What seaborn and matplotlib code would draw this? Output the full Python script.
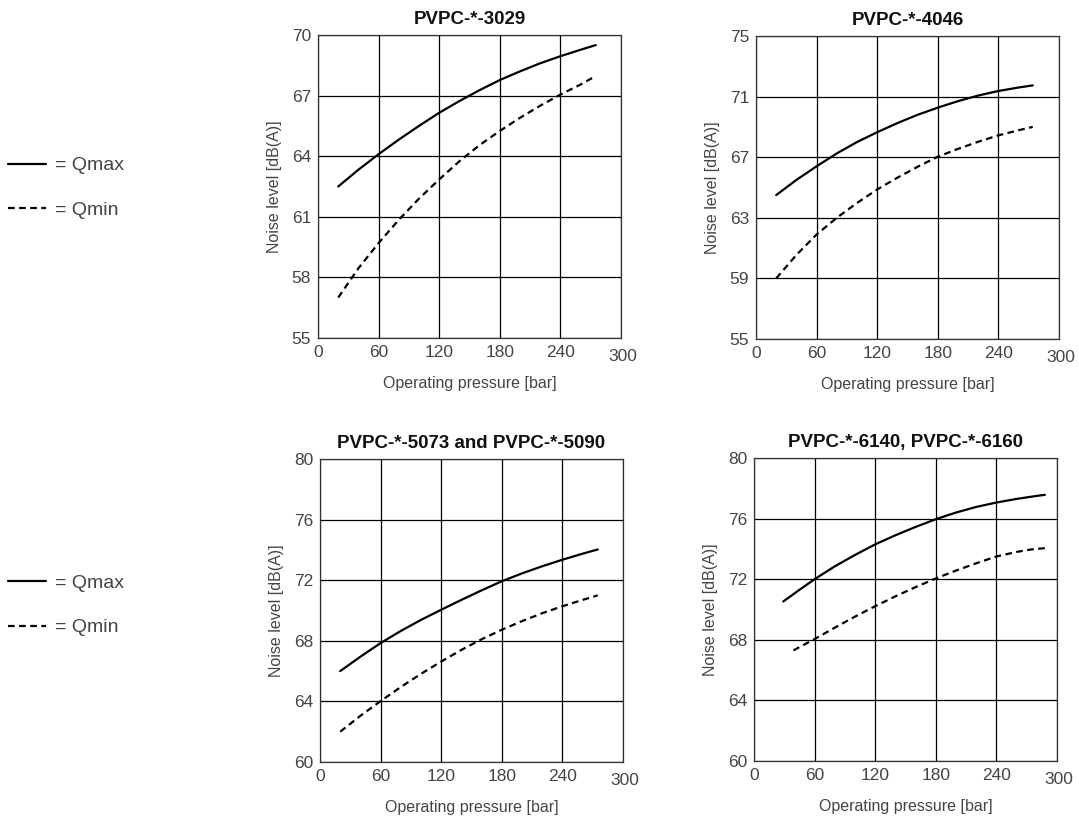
import matplotlib
matplotlib.use('Agg')
import matplotlib.pyplot as plt
import matplotlib.transforms as mtransforms
from matplotlib.lines import Line2D
import seaborn as sns
import pandas as pd

# Daten
titles = ['PVPC-*-3029', 'PVPC-*-4046', 'PVPC-*-5073 and PVPC-*-5090', 'PVPC-*-6140, PVPC-*-6160']

p_3029_max = [20, 40, 60, 80, 100, 120, 140, 160, 180, 200, 220, 240, 260, 275]
q_3029_max = [62.5, 63.33, 64.1, 64.82, 65.5, 66.15, 66.73, 67.27, 67.77, 68.2, 68.6, 68.95, 69.27, 69.5]
p_3029_min = [20, 40, 60, 80, 100, 120, 140, 160, 180, 200, 220, 240, 260, 275]
q_3029_min = [57.0, 58.45, 59.7, 60.85, 61.9, 62.85, 63.75, 64.55, 65.25, 65.9, 66.5, 67.05, 67.55, 67.97]

p_4046_max = [20, 40, 60, 80, 100, 120, 140, 160, 180, 200, 220, 240, 260, 274]
q_4046_max = [64.5, 65.5, 66.4, 67.25, 68.0, 68.65, 69.25, 69.8, 70.27, 70.7, 71.07, 71.37, 71.6, 71.74]
p_4046_min = [20, 40, 60, 80, 100, 120, 140, 160, 180, 200, 220, 240, 260, 274]
q_4046_min = [59.0, 60.55, 61.9, 63.0, 63.98, 64.87, 65.65, 66.37, 67.03, 67.55, 68.02, 68.44, 68.78, 69.0]

p_5073_max = [20, 40, 60, 80, 100, 120, 140, 160, 180, 200, 220, 240, 260, 275]
q_5073_max = [66.0, 66.95, 67.85, 68.65, 69.38, 70.05, 70.7, 71.33, 71.93, 72.45, 72.92, 73.35, 73.75, 74.03]
p_5073_min = [20, 40, 60, 80, 100, 120, 140, 160, 180, 200, 220, 240, 260, 275]
q_5073_min = [62.0, 63.05, 64.02, 64.95, 65.82, 66.63, 67.4, 68.1, 68.73, 69.3, 69.82, 70.28, 70.7, 71.0]

p_6140_max = [29, 45, 60, 80, 100, 120, 140, 160, 180, 200, 220, 240, 260, 275, 288]
q_6140_max = [70.53, 71.3, 72.0, 72.85, 73.6, 74.3, 74.9, 75.45, 75.96, 76.4, 76.77, 77.06, 77.3, 77.45, 77.57]
p_6140_min = [39, 60, 80, 100, 120, 140, 160, 180, 200, 220, 240, 260, 275, 290]
q_6140_min = [67.3, 68.05, 68.8, 69.53, 70.22, 70.87, 71.48, 72.05, 72.57, 73.05, 73.5, 73.8, 73.97, 74.06]

yticks_all = [[55, 58, 61, 64, 67, 70], [55, 59, 63, 67, 71, 75],
              [60, 64, 68, 72, 76, 80], [60, 64, 68, 72, 76, 80]]
xticks = [0, 60, 120, 180, 240, 300]

series = [
    (p_3029_max, q_3029_max, p_3029_min, q_3029_min),
    (p_4046_max, q_4046_max, p_4046_min, q_4046_min),
    (p_5073_max, q_5073_max, p_5073_min, q_5073_min),
    (p_6140_max, q_6140_max, p_6140_min, q_6140_min),
]

sns.set_style('white')
plt.rcParams['font.family'] = ['Liberation Sans', 'DejaVu Sans']

grey = '#444444'
fig = plt.figure(figsize=(10.79, 8.23), dpi=100)

# Achsenpositionen (Pixel -> Bruchteile)
boxes = [(318, 338), (756, 339), (320, 762), (754, 761)]
size = 303

for i, (left_px, bottom_px) in enumerate(boxes):
    ax = fig.add_axes([left_px / 1079, 1 - bottom_px / 823, size / 1079, size / 823])
    pmax, qmax, pmin, qmin = series[i]
    df = pd.concat([
        pd.DataFrame({'p': pmax, 'q': qmax, 'Q': 'Qmax'}),
        pd.DataFrame({'p': pmin, 'q': qmin, 'Q': 'Qmin'}),
    ])
    sns.lineplot(data=df, x='p', y='q', style='Q', hue='Q',
                 palette={'Qmax': 'black', 'Qmin': 'black'},
                 dashes={'Qmax': '', 'Qmin': (3, 2)},
                 linewidth=1.6, ax=ax, legend=False, zorder=3)

    yt = yticks_all[i]
    ax.set_xlim(0, 300)
    ax.set_ylim(yt[0], yt[-1])
    ax.set_xticks(xticks)
    ax.set_yticks(yt)
    ax.grid(True, color='black', linewidth=0.9)
    for s in ax.spines.values():
        s.set_color('#333333')
        s.set_linewidth(0.9)
    ax.tick_params(length=0, pad=5, labelsize=12.5, labelcolor=grey)
    ax.set_xlabel('Operating pressure [bar]', fontsize=11.5, color=grey, labelpad=9)
    ax.set_ylabel('Noise level [dB(A)]', fontsize=11.5, color=grey, labelpad=7)
    ax.set_title(titles[i], fontsize=13.5, fontweight='bold', color='#111111', pad=8)

    # "300" etwas tiefer wie im Original
    lab = ax.get_xticklabels()[-1]
    lab.set_transform(lab.get_transform() + mtransforms.ScaledTranslation(0.02, -0.04, fig.dpi_scale_trans))

handles = [Line2D([], [], color='black', linewidth=1.6),
           Line2D([], [], color='black', linewidth=1.6, dashes=(3, 2))]
for ytop in [0.819, 0.312]:
    fig.legend(handles, ['= Qmax', '= Qmin'], loc='upper left',
               bbox_to_anchor=(0.0, ytop), frameon=False, fontsize=14,
               labelcolor=grey, handlelength=1.95, handletextpad=0.5,
               labelspacing=1.4, borderaxespad=0)

fig.savefig('out.png', dpi=100)
